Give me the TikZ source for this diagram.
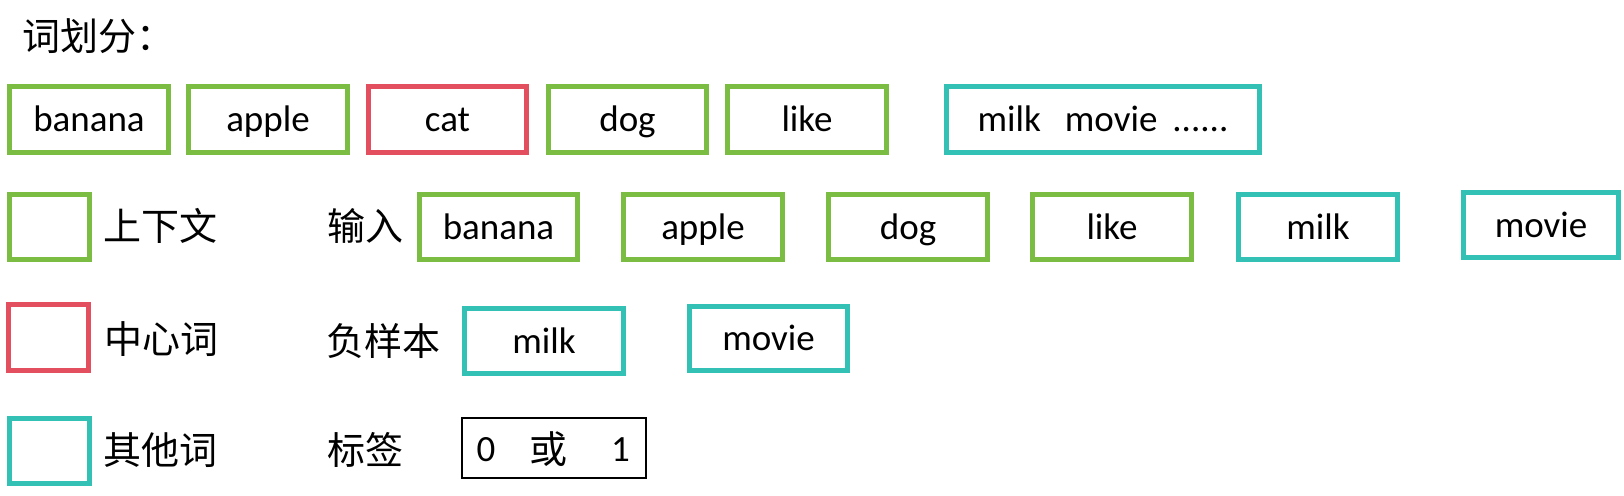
\documentclass[tikz,border=0pt]{standalone}
\usepackage{fontspec}
\setmainfont{Carlito}
\newfontfamily\cjk{Noto Sans CJK SC}
\definecolor{cgreen}{HTML}{7ABD42}
\definecolor{cred}{HTML}{E44F60}
\definecolor{cteal}{HTML}{33C0B5}
\begin{document}
\begin{tikzpicture}[x=1pt,y=-1pt,
  every node/.style={inner sep=0pt, outer sep=0pt, font=\fontsize{37}{44}\selectfont},
  wbox/.style={draw, line width=5pt, rectangle, text height=24pt, text depth=0pt, minimum height=66pt},
  ctx/.style={wbox, draw=cgreen},
  ctr/.style={wbox, draw=cred},
  oth/.style={wbox, draw=cteal},
  zh/.style={anchor=base west, font=\fontsize{38}{44}\selectfont\cjk},
]
\useasboundingbox (0,0) rectangle (1624,495);

% title
\node[zh] (title) at (22,51) {词划分：};

% row 1: word segmentation
\node[ctx, minimum width=159pt] (w1) at (89,119.5) {banana};
\node[ctx, minimum width=159pt] (w2) at (268,119.5) {apple};
\node[ctr, minimum width=158pt] (w3) at (447.5,119.5) {cat};
\node[ctx, minimum width=158pt] (w4) at (627.5,119.5) {dog};
\node[ctx, minimum width=159pt] (w5) at (807,119.5) {like};
\node[oth, minimum width=313pt] (w6) at (1103,119.5) {milk\hspace{24pt}movie\hspace{15pt}......};

% legend
\node[ctx, minimum width=80pt, minimum height=65pt] (lg1) at (49.5,227) {};
\node[zh] (lg1t) at (103,240) {上下文};
\node[ctr, minimum width=80pt, minimum height=66pt] (lg2) at (48.5,337.5) {};
\node[zh] (lg2t) at (104,353) {中心词};
\node[oth, minimum width=80pt, minimum height=65pt] (lg3) at (49.5,451) {};
\node[zh] (lg3t) at (103,464) {其他词};

% row 2: input
\node[zh] (inlab) at (327,240) {输入};
\node[ctx, minimum width=158pt, minimum height=65pt] (i1) at (498.5,227) {banana};
\node[ctx, minimum width=159pt, minimum height=65pt] (i2) at (703,227) {apple};
\node[ctx, minimum width=159pt, minimum height=65pt] (i3) at (908,227) {dog};
\node[ctx, minimum width=159pt, minimum height=65pt] (i4) at (1112,227) {like};
\node[oth, minimum width=159pt, minimum height=65pt] (i5) at (1318,227) {milk};
\node[oth, minimum width=155pt, minimum height=65pt] (i6) at (1541,225) {movie};

% row 3: negative samples
\node[zh] (neglab) at (326,355) {负样本};
\node[oth, minimum width=159pt, minimum height=65pt] (n1) at (544,341) {milk};
\node[oth, minimum width=158pt, minimum height=64pt] (n2) at (768.5,338.5) {movie};

% row 4: label
\node[zh] (lablab) at (327,464) {标签};
\node[draw, line width=2pt, minimum width=184pt, minimum height=60pt] (lab) at (554,448) {};
\node[anchor=base] (l0) at (486,461) {0};
\node[anchor=base, font=\fontsize{38}{44}\selectfont\cjk] (lor) at (548.5,463) {或};
\node[anchor=base] (l1) at (620.5,461) {1};
\end{tikzpicture}
\end{document}
